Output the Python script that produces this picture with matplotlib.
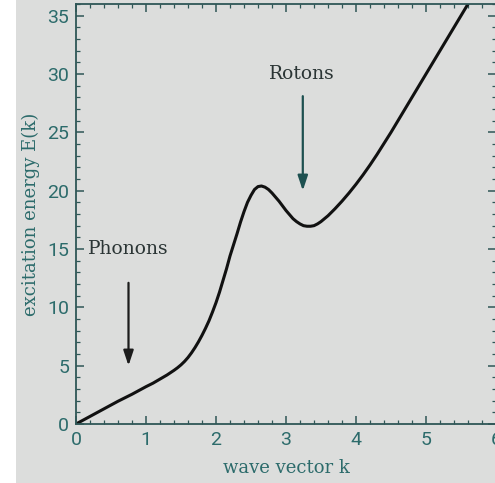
import matplotlib.pyplot as plt
from matplotlib.patches import Rectangle

# Dispersion curve
k = [0.0, 0.2, 0.4, 0.6, 0.8, 1.0, 1.1, 1.2, 1.3, 1.4, 1.45, 1.5, 1.55, 1.6,
     1.65, 1.7, 1.75, 1.8, 1.85, 1.9, 1.95, 2.0, 2.05, 2.1, 2.15, 2.2, 2.25,
     2.3, 2.35, 2.4, 2.45, 2.5, 2.55, 2.6, 2.65, 2.7, 2.75, 2.8, 2.85, 2.9,
     2.95, 3.0, 3.05, 3.1, 3.15, 3.2, 3.25, 3.3, 3.35, 3.4, 3.45, 3.5, 3.55,
     3.6, 3.7, 3.8, 3.9, 4.0, 4.1, 4.2, 4.3, 4.4, 4.5, 4.6, 4.7, 4.8, 4.9,
     5.0, 5.1, 5.2, 5.3, 5.4, 5.5, 5.6, 5.7]
E = [0.0, 0.65, 1.3, 1.95, 2.55, 3.2, 3.5, 3.85, 4.2, 4.6, 4.82, 5.07, 5.36, 5.7,
     6.1, 6.55, 7.05, 7.6, 8.2, 8.85, 9.6, 10.4, 11.3, 12.3, 13.3, 14.4, 15.35,
     16.3, 17.3, 18.2, 19.0, 19.6, 20.1, 20.35, 20.4, 20.3, 20.1, 19.8, 19.45, 19.1,
     18.7, 18.3, 17.95, 17.6, 17.35, 17.15, 17.0, 16.95, 16.95, 17.0, 17.15, 17.35, 17.6,
     17.85, 18.45, 19.1, 19.8, 20.55, 21.35, 22.2, 23.1, 24.05, 25.0, 26.0, 27.0, 28.0, 29.0,
     30.0, 31.0, 32.0, 33.0, 34.0, 35.0, 36.0, 37.0]

labels = ["Phonons", "Rotons"]
label_pos = [(0.17, 15.0), (3.23, 30.0)]
arrow_tail = [(0.75, 12.1), (3.24, 28.1)]
arrow_head = [(0.75, 5.0), (3.24, 20.0)]
arrow_colors = ["#1c1c1c", "#1d5050"]

bg = "#dcdddc"
teal = "#2c6b6b"
spine = "#2f5656"

fig = plt.figure(figsize=(4.95, 4.83), dpi=100, facecolor=bg)
# white strip on the far left of the reference
fig.patches.append(Rectangle((0, 0), 16 / 495, 1, transform=fig.transFigure,
                             facecolor="white", edgecolor="none", zorder=-1))
ax = fig.add_axes([76 / 495, 59 / 483, 420 / 495, 420 / 483])
ax.set_facecolor(bg)

ax.plot(k, E, color="#111111", lw=2.2, solid_capstyle="round",
        solid_joinstyle="round", clip_on=True)

for name, pos in zip(labels, label_pos):
    ha = "left" if name == "Phonons" else "center"
    ax.text(pos[0], pos[1], name, ha=ha, va="center", fontsize=13.5,
            family="DejaVu Serif", color="#2b3535")

for t, h, c in zip(arrow_tail, arrow_head, arrow_colors):
    ax.annotate("", xy=h, xytext=t,
                arrowprops=dict(arrowstyle="-|>,head_length=0.9,head_width=0.3",
                                color=c, lw=1.6, shrinkA=0, shrinkB=0))

ax.set_xlim(0, 6)
ax.set_ylim(0, 36)
ax.set_xticks(range(0, 7))
ax.set_yticks(range(0, 36, 5))
ax.set_xticks([i * 0.2 for i in range(31)], minor=True)
ax.set_yticks(range(0, 37), minor=True)

for s in ax.spines.values():
    s.set_color(spine)
    s.set_linewidth(1.3)

ax.tick_params(which="both", direction="in", top=True, right=True,
               color=spine, labelcolor=teal)
ax.tick_params(which="major", length=6, width=1.1, labelsize=14, pad=5)
ax.tick_params(which="minor", length=3, width=0.9)
for lab in ax.get_xticklabels() + ax.get_yticklabels():
    lab.set_family("Roboto")

ax.set_xlabel("wave vector k", family="DejaVu Serif", fontsize=13,
              color=teal, labelpad=7)
ax.set_ylabel("excitation energy E(k)", family="DejaVu Serif", fontsize=13,
              color=teal, labelpad=5)

fig.savefig("out.png", dpi=100, facecolor=bg)
